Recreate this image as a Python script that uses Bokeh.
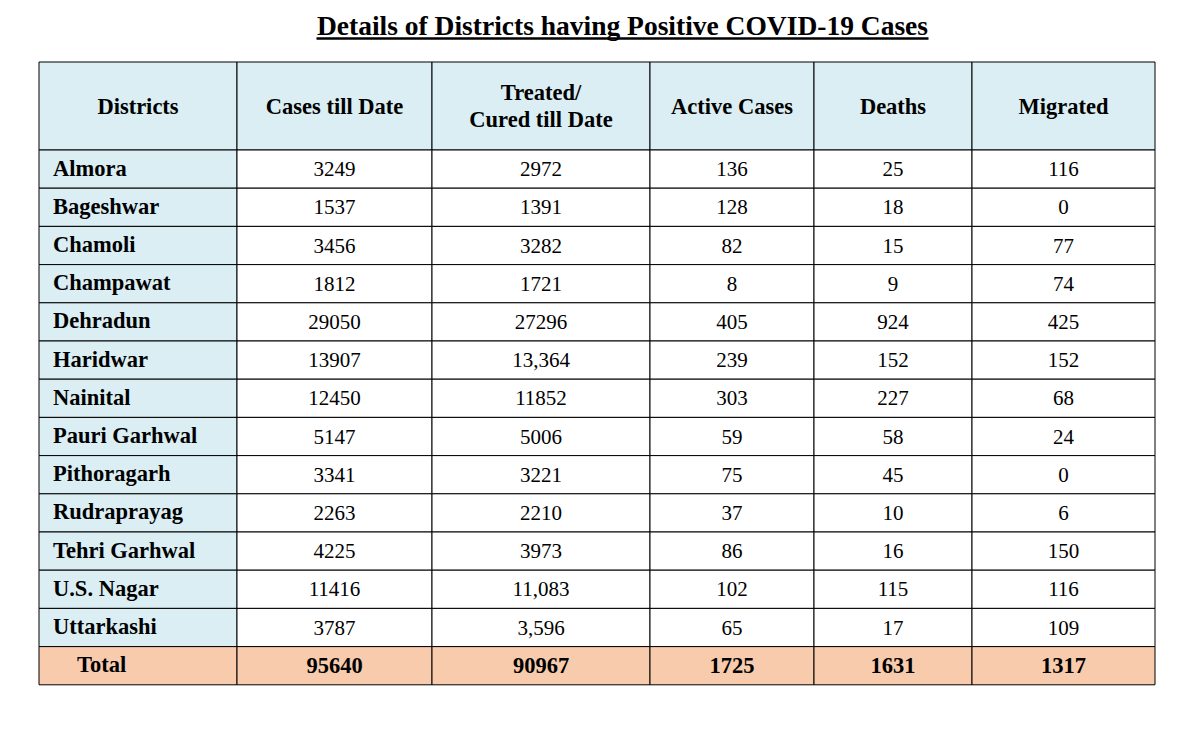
from bokeh.plotting import figure
from bokeh.models import Range1d
from bokeh.core.properties import value
from bokeh.embed import file_html
from bokeh.resources import INLINE

title = "Details of Districts having Positive COVID-19 Cases"
headers = ["Districts", "Cases till Date", "Treated/\nCured till Date", "Active Cases", "Deaths", "Migrated"]
districts = ["Almora", "Bageshwar", "Chamoli", "Champawat", "Dehradun", "Haridwar", "Nainital",
             "Pauri Garhwal", "Pithoragarh", "Rudraprayag", "Tehri Garhwal", "U.S. Nagar", "Uttarkashi"]
cases = ["3249", "1537", "3456", "1812", "29050", "13907", "12450", "5147", "3341", "2263", "4225", "11416", "3787"]
treated = ["2972", "1391", "3282", "1721", "27296", "13,364", "11852", "5006", "3221", "2210", "3973", "11,083", "3,596"]
active = ["136", "128", "82", "8", "405", "239", "303", "59", "75", "37", "86", "102", "65"]
deaths = ["25", "18", "15", "9", "924", "152", "227", "58", "45", "10", "16", "115", "17"]
migrated = ["116", "0", "77", "74", "425", "152", "68", "24", "0", "6", "150", "116", "109"]
total_label = "Total"
totals = ["95640", "90967", "1725", "1631", "1317"]

# layout (page pixel coordinates)
col_edges = [38.5, 236.5, 431.5, 649.5, 813.5, 971.5, 1154.5]
header_top, header_bottom = 61.5, 149.5
row_h = 38.2
HEAD_BG = "#DAEEF3"
TOTAL_BG = "#F8CBAD"
FONT = value("Liberation Serif")
BOLD_SIZE = "22.5px"
REG_SIZE = "21px"

W, H = 1172, 715
p = figure(width=W, height=H, output_backend="svg", toolbar_location=None,
           x_range=Range1d(0, W), y_range=Range1d(H, 0),
           x_axis_type=None, y_axis_type=None, min_border=0)
p.outline_line_color = None
p.xgrid.visible = False
p.ygrid.visible = False
p.background_fill_color = "white"

columns = [cases, treated, active, deaths, migrated]
nrows = len(districts) + 1
row_tops = [header_bottom + i * row_h for i in range(nrows)]

L, R, T, B, F = [], [], [], [], []
for c in range(6):
    L.append(col_edges[c]); R.append(col_edges[c + 1]); T.append(header_top); B.append(header_bottom); F.append(HEAD_BG)
for r in range(nrows):
    is_total = r == nrows - 1
    for c in range(6):
        L.append(col_edges[c]); R.append(col_edges[c + 1])
        T.append(row_tops[r]); B.append(row_tops[r] + row_h)
        if is_total:
            F.append(TOTAL_BG)
        elif c == 0:
            F.append(HEAD_BG)
        else:
            F.append("white")
p.quad(left=L, right=R, top=T, bottom=B, fill_color=F, line_color="black", line_width=1)

# header text
hx = [(col_edges[c] + col_edges[c + 1]) / 2 for c in range(6)]
hy = [(header_top + header_bottom) / 2] * 6
p.text(x=hx, y=hy, text=headers, text_align="center", text_baseline="middle",
       text_font=FONT, text_font_style="bold", text_font_size=BOLD_SIZE, text_color="black",
       text_line_height=1.1)

# district names
dy = [row_tops[r] + row_h / 2 - 1 for r in range(len(districts))]
p.text(x=[col_edges[0] + 14] * len(districts), y=dy, text=districts, text_align="left",
       text_baseline="middle", text_font=FONT, text_font_style="bold", text_font_size=BOLD_SIZE,
       text_color="black")

# values
vx, vy, vt = [], [], []
for c, col in enumerate(columns):
    for r, v in enumerate(col):
        vx.append((col_edges[c + 1] + col_edges[c + 2]) / 2)
        vy.append(row_tops[r] + row_h / 2)
        vt.append(v)
p.text(x=vx, y=vy, text=vt, text_align="center", text_baseline="middle",
       text_font=FONT, text_font_size=REG_SIZE, text_color="black")

# total row
ty = row_tops[-1] + row_h / 2 - 1
p.text(x=[col_edges[0] + 38], y=[ty], text=[total_label], text_align="left", text_baseline="middle",
       text_font=FONT, text_font_style="bold", text_font_size=BOLD_SIZE, text_color="black")
p.text(x=[(col_edges[c + 1] + col_edges[c + 2]) / 2 for c in range(5)], y=[ty + 1] * 5, text=totals,
       text_align="center", text_baseline="middle", text_font=FONT, text_font_style="bold",
       text_font_size=BOLD_SIZE, text_color="black")

# title with underline
p.text(x=[622], y=[25], text=[title], text_align="center", text_baseline="middle",
       text_font=FONT, text_font_style="bold", text_font_size="27.5px", text_color="black")
p.segment(x0=[316], y0=[38], x1=[928], y1=[38], line_color="black", line_width=2.5)

open("out.html", "w").write(file_html(p, INLINE))
